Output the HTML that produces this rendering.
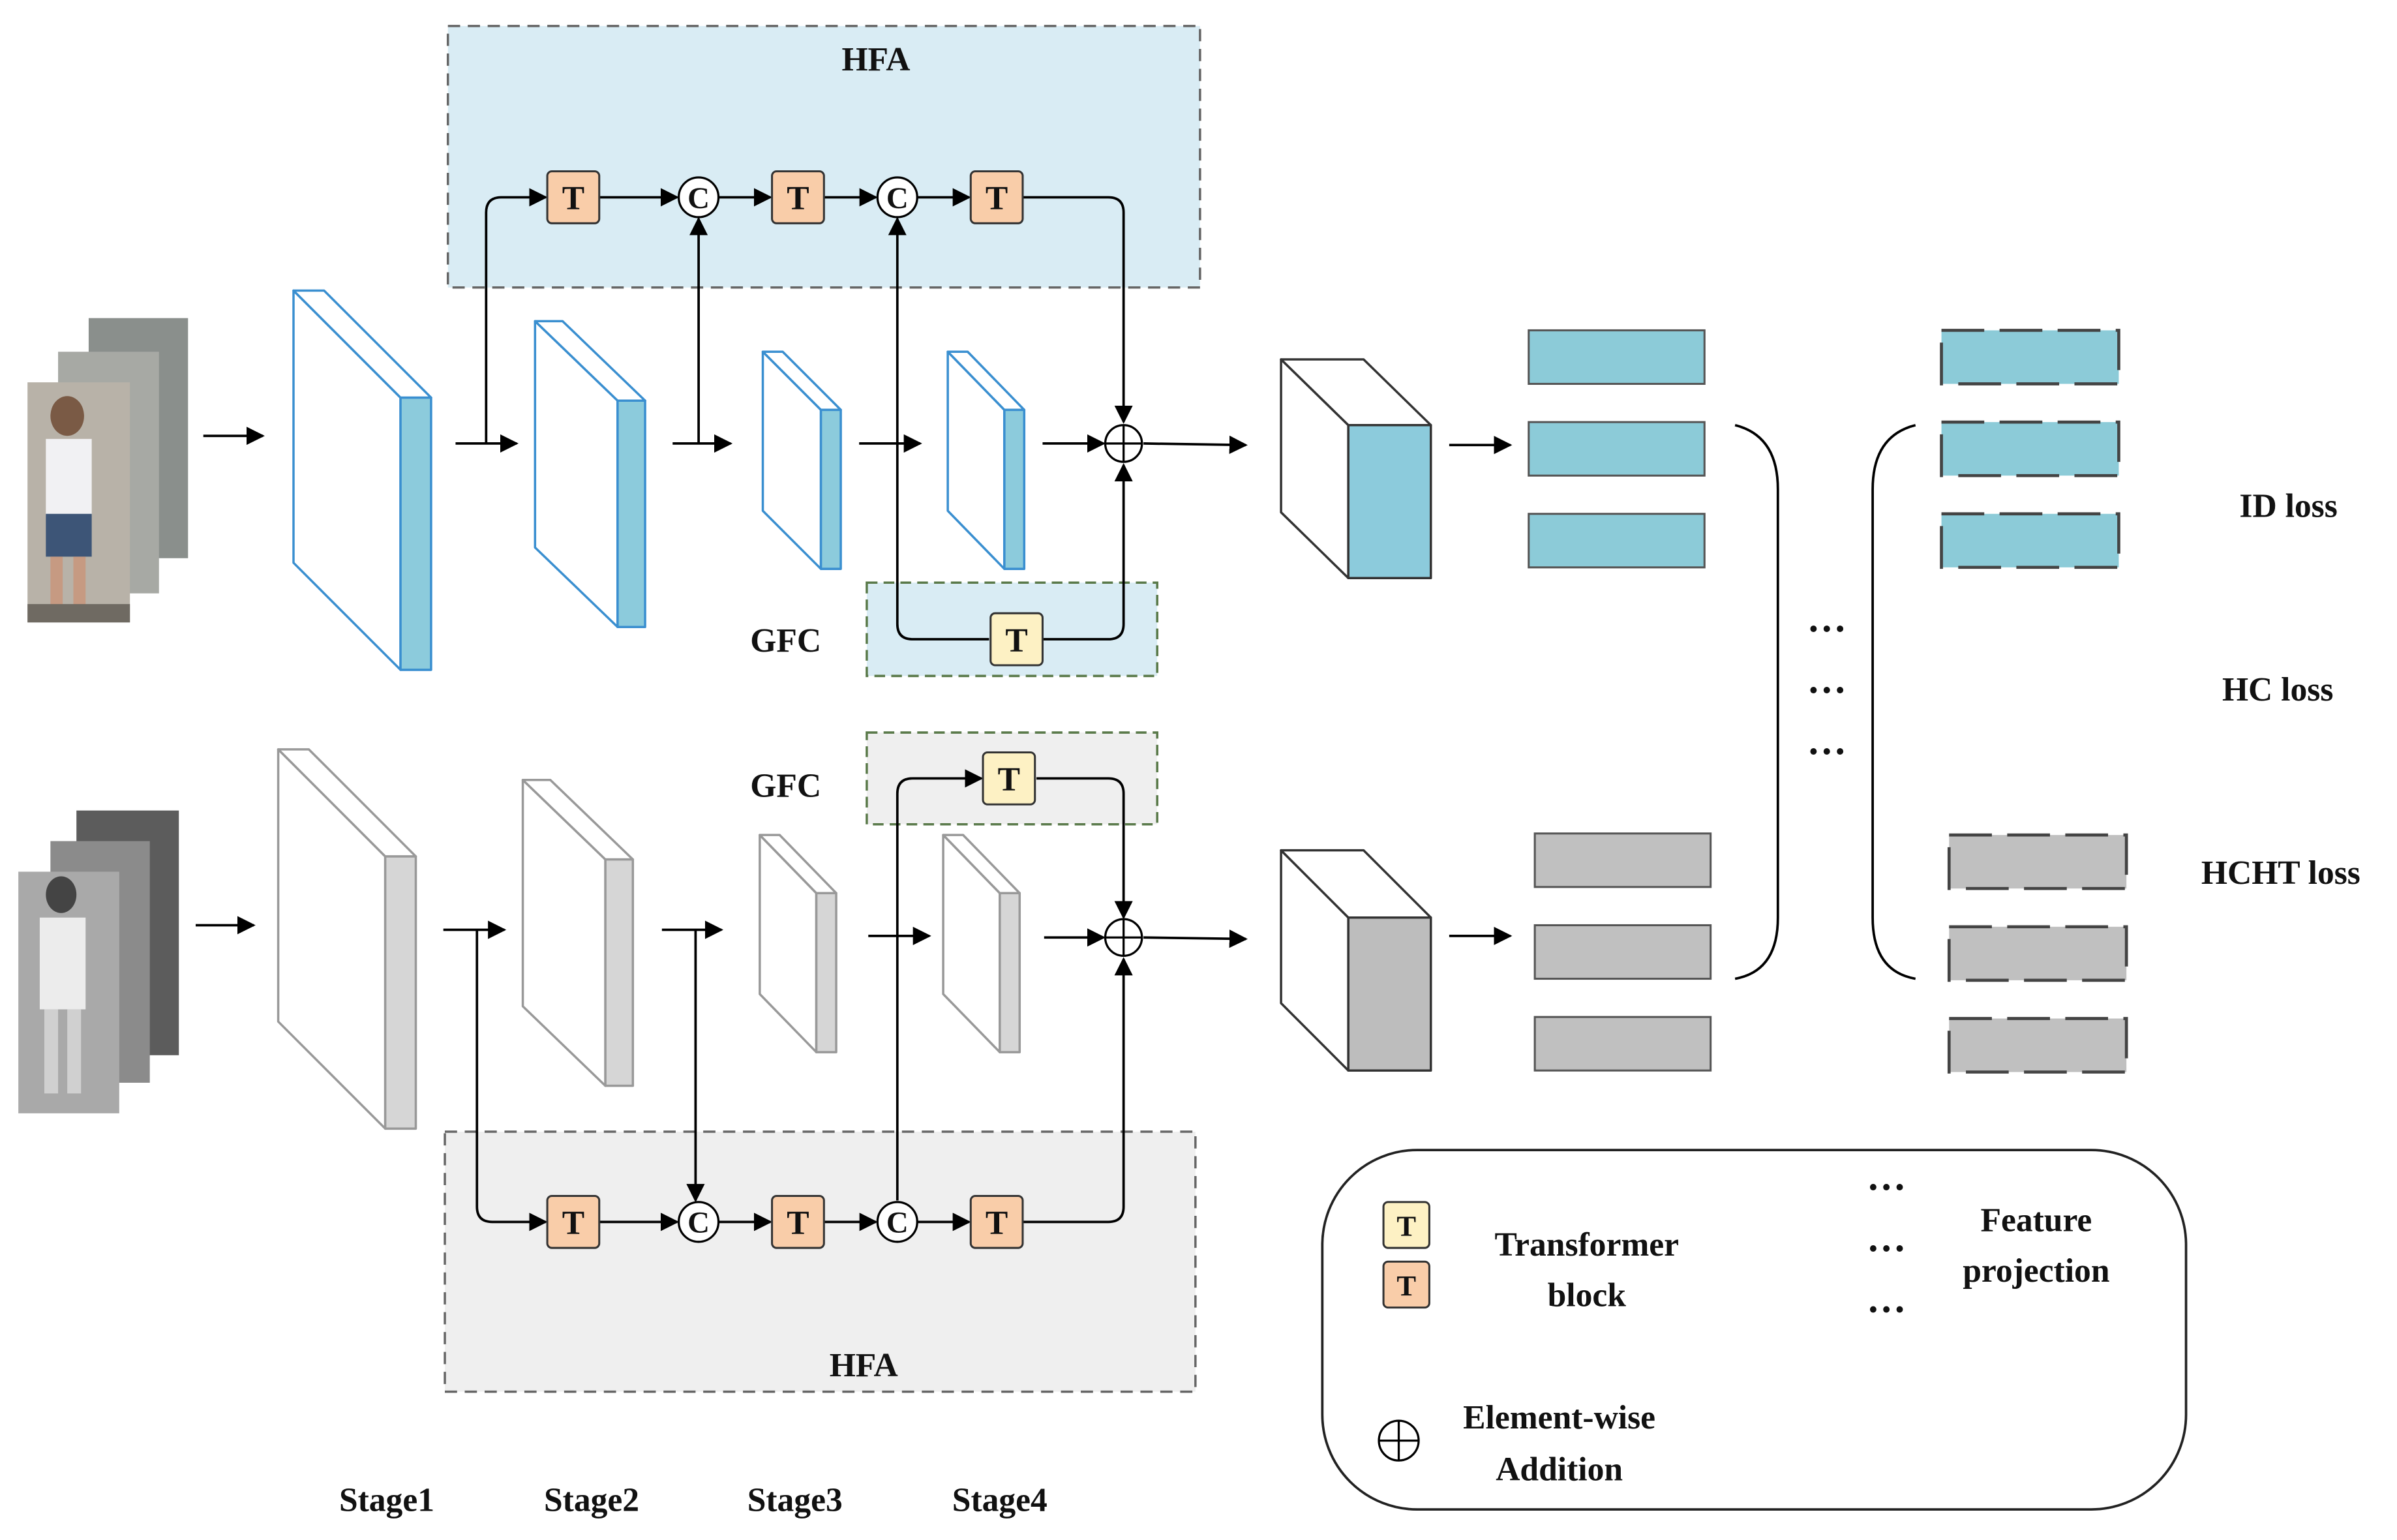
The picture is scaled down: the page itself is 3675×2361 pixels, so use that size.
<!DOCTYPE html>
<html><head><meta charset="utf-8"><style>
html,body{margin:0;padding:0;background:#fff;}
svg{display:block;}
text{font-family:"Liberation Serif",serif;font-weight:bold;fill:#111;}
</style></head><body>
<svg width="3675" height="2361" viewBox="0 0 1568 1007" preserveAspectRatio="none" xmlns="http://www.w3.org/2000/svg">
<defs>
<marker id="b" viewBox="0 0 10 10" refX="9" refY="5" markerWidth="12" markerHeight="12" orient="auto" markerUnits="userSpaceOnUse"><path d="M0,0 L10,5 L0,10 z" fill="#000"/></marker>
</defs>

<!-- HFA boxes -->
<rect x="293" y="17" width="492" height="171" fill="#d9ecf4" stroke="#666" stroke-width="1.5" stroke-dasharray="8,5"/>
<text x="573" y="46" font-size="22" text-anchor="middle">HFA</text>
<rect x="291" y="740" width="491" height="170" fill="#efefef" stroke="#666" stroke-width="1.5" stroke-dasharray="8,5"/>
<text x="565" y="900" font-size="22" text-anchor="middle">HFA</text>
<!-- GFC boxes -->
<rect x="567" y="381" width="190" height="61" fill="#d9ecf4" stroke="#5a7a4a" stroke-width="1.5" stroke-dasharray="7,4"/>
<rect x="567" y="479" width="190" height="60" fill="#efefef" stroke="#5a7a4a" stroke-width="1.5" stroke-dasharray="7,4"/>
<text x="514" y="426" font-size="22" text-anchor="middle">GFC</text>
<text x="514" y="521" font-size="22" text-anchor="middle">GFC</text>

<!-- person images -->
<g>
<rect x="58" y="208" width="65" height="157" fill="#8a8f8c"/>
<rect x="38" y="230" width="66" height="158" fill="#a7a9a4"/>
<rect x="18" y="250" width="67" height="157" fill="#b8b2a8"/>
<ellipse cx="44" cy="272" rx="11" ry="13" fill="#7a5a45"/>
<rect x="30" y="287" width="30" height="50" fill="#f1f1f3"/>
<rect x="30" y="336" width="30" height="28" fill="#3d5577"/>
<rect x="33" y="364" width="8" height="38" fill="#c69a82"/>
<rect x="48" y="364" width="8" height="38" fill="#c69a82"/>
<rect x="18" y="395" width="67" height="12" fill="#6f6a62"/>
</g>
<g>
<rect x="50" y="530" width="67" height="160" fill="#5c5c5c"/>
<rect x="33" y="550" width="65" height="158" fill="#8b8b8b"/>
<rect x="12" y="570" width="66" height="158" fill="#a9a9a9"/>
<ellipse cx="40" cy="585" rx="10" ry="12" fill="#444"/>
<rect x="26" y="600" width="30" height="60" fill="#ececec"/>
<rect x="29" y="660" width="9" height="55" fill="#d0d0d0"/>
<rect x="44" y="660" width="9" height="55" fill="#d0d0d0"/>
</g>

<!-- slabs -->
<g stroke-width="1.5" stroke-linejoin="round">
<g stroke="#3a8fd0" fill="#fff">
<polygon points="192,190 262,260 262,438 192,368"/><polygon points="192,190 212,190 282,260 262,260"/><rect x="262" y="260" width="20" height="178" fill="#8ccbdc"/>
<polygon points="350,210 404,262 404,410 350,358"/><polygon points="350,210 368,210 422,262 404,262"/><rect x="404" y="262" width="18" height="148" fill="#8ccbdc"/>
<polygon points="499,230 537,268 537,372 499,334"/><polygon points="499,230 512,230 550,268 537,268"/><rect x="537" y="268" width="13" height="104" fill="#8ccbdc"/>
<polygon points="620,230 657,268 657,372 620,334"/><polygon points="620,230 633,230 670,268 657,268"/><rect x="657" y="268" width="13" height="104" fill="#8ccbdc"/>
</g>
<g stroke="#999" fill="#fff">
<polygon points="182,490 252,560 252,738 182,668"/><polygon points="182,490 202,490 272,560 252,560"/><rect x="252" y="560" width="20" height="178" fill="#d6d6d6"/>
<polygon points="342,510 396,562 396,710 342,658"/><polygon points="342,510 360,510 414,562 396,562"/><rect x="396" y="562" width="18" height="148" fill="#d6d6d6"/>
<polygon points="497,546 534,584 534,688 497,650"/><polygon points="497,546 510,546 547,584 534,584"/><rect x="534" y="584" width="13" height="104" fill="#d6d6d6"/>
<polygon points="617,546 654,584 654,688 617,650"/><polygon points="617,546 630,546 667,584 654,584"/><rect x="654" y="584" width="13" height="104" fill="#d6d6d6"/>
</g>
<g stroke="#333" fill="#fff">
<polygon points="838,235 882,278 882,378 838,335"/><polygon points="838,235 892,235 936,278 882,278"/><rect x="882" y="278" width="54" height="100" fill="#8ccbdc"/>
<polygon points="838,556 882,600 882,700 838,656"/><polygon points="838,556 892,556 936,600 882,600"/><rect x="882" y="600" width="54" height="100" fill="#bdbdbd"/>
</g>
</g>

<!-- connectors -->
<g stroke="#000" stroke-width="1.6" fill="none">
<line x1="133" y1="285" x2="172" y2="285" marker-end="url(#b)"/>
<line x1="128" y1="605" x2="166" y2="605" marker-end="url(#b)"/>
<line x1="298" y1="290" x2="338" y2="290" marker-end="url(#b)"/>
<line x1="440" y1="290" x2="478" y2="290" marker-end="url(#b)"/>
<line x1="562" y1="290" x2="602" y2="290" marker-end="url(#b)"/>
<line x1="682" y1="290" x2="722" y2="290" marker-end="url(#b)"/>
<line x1="748" y1="290" x2="815" y2="291" marker-end="url(#b)"/>
<line x1="290" y1="608" x2="330" y2="608" marker-end="url(#b)"/>
<line x1="433" y1="608" x2="472" y2="608" marker-end="url(#b)"/>
<line x1="568" y1="612" x2="608" y2="612" marker-end="url(#b)"/>
<line x1="683" y1="613" x2="722" y2="613" marker-end="url(#b)"/>
<line x1="748" y1="613" x2="815" y2="614" marker-end="url(#b)"/>
<line x1="948" y1="291" x2="988" y2="291" marker-end="url(#b)"/>
<line x1="948" y1="612" x2="988" y2="612" marker-end="url(#b)"/>
<path d="M318,290 V139 Q318,129 328,129 H357" marker-end="url(#b)"/>
<line x1="392" y1="129" x2="443" y2="129" marker-end="url(#b)"/>
<line x1="470" y1="129" x2="504" y2="129" marker-end="url(#b)"/>
<line x1="539" y1="129" x2="573" y2="129" marker-end="url(#b)"/>
<line x1="600" y1="129" x2="634" y2="129" marker-end="url(#b)"/>
<line x1="457" y1="290" x2="457" y2="143" marker-end="url(#b)"/>
<path d="M669,129 H725 Q735,129 735,139 V276" marker-end="url(#b)"/>
<path d="M647,418 H597 Q587,418 587,408 V143" marker-end="url(#b)"/>
<path d="M682,418 H725 Q735,418 735,408 V304" marker-end="url(#b)"/>
<path d="M312,608 V789 Q312,799 322,799 H357" marker-end="url(#b)"/>
<line x1="392" y1="799" x2="443" y2="799" marker-end="url(#b)"/>
<line x1="470" y1="799" x2="504" y2="799" marker-end="url(#b)"/>
<line x1="539" y1="799" x2="573" y2="799" marker-end="url(#b)"/>
<line x1="600" y1="799" x2="634" y2="799" marker-end="url(#b)"/>
<line x1="455" y1="608" x2="455" y2="785" marker-end="url(#b)"/>
<path d="M669,799 H725 Q735,799 735,789 V627" marker-end="url(#b)"/>
<path d="M587,785 V519 Q587,509 597,509 H642" marker-end="url(#b)"/>
<path d="M678,509 H725 Q735,509 735,519 V600" marker-end="url(#b)"/>
</g>

<!-- legend box (drawn before icons) -->
<rect x="865" y="752" width="565" height="235" rx="62" fill="#fff" stroke="#222" stroke-width="1.6"/>

<!-- T blocks -->
<g stroke="#333" stroke-width="1.3">
<rect x="358" y="112" width="34" height="34" rx="3" fill="#f9cda9"/>
<rect x="505" y="112" width="34" height="34" rx="3" fill="#f9cda9"/>
<rect x="635" y="112" width="34" height="34" rx="3" fill="#f9cda9"/>
<rect x="358" y="782" width="34" height="34" rx="3" fill="#f9cda9"/>
<rect x="505" y="782" width="34" height="34" rx="3" fill="#f9cda9"/>
<rect x="635" y="782" width="34" height="34" rx="3" fill="#f9cda9"/>
<rect x="648" y="401" width="34" height="34" rx="3" fill="#fdf1c4"/>
<rect x="643" y="492" width="34" height="34" rx="3" fill="#fdf1c4"/>
<rect x="905" y="786" width="30" height="30" rx="3" fill="#fdf1c4"/>
<rect x="905" y="825" width="30" height="30" rx="3" fill="#f9cda9"/>
</g>
<g font-size="22" text-anchor="middle">
<text x="375" y="137">T</text><text x="522" y="137">T</text><text x="652" y="137">T</text>
<text x="375" y="807">T</text><text x="522" y="807">T</text><text x="652" y="807">T</text>
<text x="665" y="426">T</text><text x="660" y="517">T</text>
<text x="920" y="808" font-size="19">T</text><text x="920" y="847" font-size="19">T</text>
</g>
<g stroke="#000" stroke-width="1.4" fill="#fff">
<circle cx="457" cy="129" r="13"/><circle cx="587" cy="129" r="13"/>
<circle cx="457" cy="799" r="13"/><circle cx="587" cy="799" r="13"/>
</g>
<g font-size="20" text-anchor="middle">
<text x="457" y="136" font-weight="normal">C</text><text x="587" y="136" font-weight="normal">C</text>
<text x="457" y="806" font-weight="normal">C</text><text x="587" y="806" font-weight="normal">C</text>
</g>
<g stroke="#000" stroke-width="1.4" fill="#fff">
<circle cx="735" cy="290" r="12"/><path d="M723,290 H747 M735,278 V302"/>
<circle cx="735" cy="613" r="12"/><path d="M723,613 H747 M735,601 V625"/>
<circle cx="915" cy="942" r="13"/><path d="M902,942 H928 M915,929 V955"/>
</g>

<!-- bars -->
<g stroke="#555" stroke-width="1.3">
<rect x="1000" y="216" width="115" height="35" fill="#8ccbd8"/>
<rect x="1000" y="276" width="115" height="35" fill="#8ccbd8"/>
<rect x="1000" y="336" width="115" height="35" fill="#8ccbd8"/>
<rect x="1004" y="545" width="115" height="35" fill="#c0c0c0"/>
<rect x="1004" y="605" width="115" height="35" fill="#c0c0c0"/>
<rect x="1004" y="665" width="115" height="35" fill="#c0c0c0"/>
</g>
<g stroke="#444" stroke-width="2" stroke-dasharray="28,10">
<rect x="1270" y="216" width="116" height="35" fill="#8ccbd8"/>
<rect x="1270" y="276" width="116" height="35" fill="#8ccbd8"/>
<rect x="1270" y="336" width="116" height="35" fill="#8ccbd8"/>
<rect x="1275" y="546" width="116" height="35" fill="#c0c0c0"/>
<rect x="1275" y="606" width="116" height="35" fill="#c0c0c0"/>
<rect x="1275" y="666" width="116" height="35" fill="#c0c0c0"/>
</g>
<g stroke="#000" stroke-width="1.6" fill="none">
<path d="M1135,278 Q1163,285 1163,320 V600 Q1163,635 1135,640"/>
<path d="M1253,278 Q1225,285 1225,320 V600 Q1225,635 1253,640"/>
</g>
<g font-size="26" text-anchor="middle">
<text x="1195" y="420">···</text><text x="1195" y="460">···</text><text x="1195" y="500">···</text>
</g>
<g font-size="22" text-anchor="middle">
<text x="1497" y="338">ID loss</text>
<text x="1490" y="458">HC loss</text>
<text x="1492" y="578">HCHT loss</text>
</g>

<g font-size="22" text-anchor="middle">
<text x="1038" y="821">Transformer</text>
<text x="1038" y="854">block</text>
<text x="1020" y="934">Element-wise</text>
<text x="1020" y="968">Addition</text>
<text x="1332" y="805">Feature</text>
<text x="1332" y="838">projection</text>
<text x="1234" y="785" font-size="26">···</text>
<text x="1234" y="825" font-size="26">···</text>
<text x="1234" y="865" font-size="26">···</text>
</g>
<g font-size="22" text-anchor="middle">
<text x="253" y="988">Stage1</text><text x="387" y="988">Stage2</text><text x="520" y="988">Stage3</text><text x="654" y="988">Stage4</text>
</g>
</svg>
</body></html>
